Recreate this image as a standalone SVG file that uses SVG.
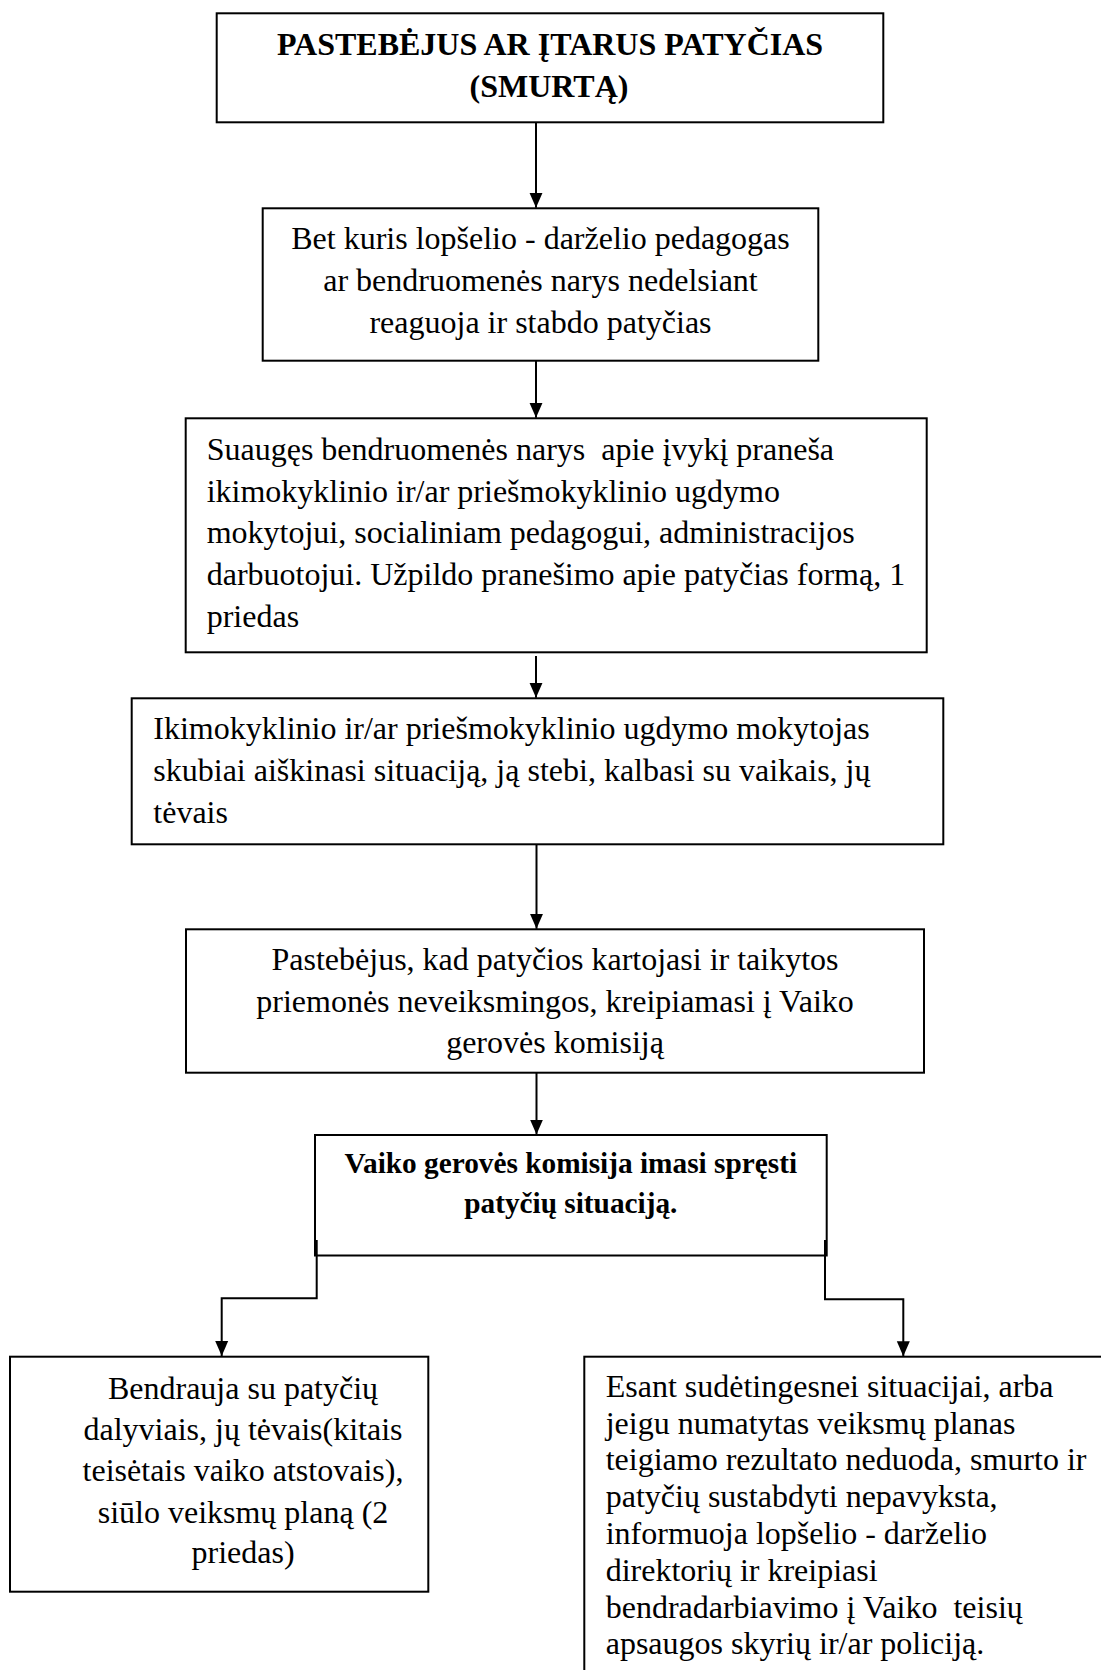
<svg xmlns="http://www.w3.org/2000/svg" width="1101" height="1670" viewBox="0 0 1101 1670">
<style>
.box{fill:#fff;stroke:#000;stroke-width:2}
.t{font-family:"Liberation Serif","Times New Roman",serif;font-size:32px;fill:#000;white-space:pre}
.b{font-weight:bold}
.c{text-anchor:middle}
.con{fill:none;stroke:#000;stroke-width:2}
</style>
<defs>
<marker id="ah" markerUnits="userSpaceOnUse" markerWidth="16" markerHeight="14" viewBox="0 0 16 14" refX="15" refY="7" orient="auto">
<path d="M0,0.5 L15,7 L0,13.5 z" fill="#000"/>
</marker>
</defs>
<rect width="1101" height="1670" fill="#fff"/>

<g id="n1">
<rect class="box" x="216.7" y="13.3" width="666.6" height="109"/>
<text class="t b c" x="550" y="55">PASTEBĖJUS AR ĮTARUS PATYČIAS</text>
<text class="t b c" x="549" y="96.7">(SMURTĄ)</text>
</g>

<g id="n2">
<rect class="box" x="262.7" y="208.3" width="555.6" height="152.4"/>
<text class="t c" x="540.5" y="249">Bet kuris lopšelio - darželio pedagogas</text>
<text class="t c" x="540.5" y="291">ar bendruomenės narys nedelsiant</text>
<text class="t c" x="540.5" y="333">reaguoja ir stabdo patyčias</text>
</g>

<g id="n3">
<rect class="box" x="185.7" y="418.3" width="741" height="234"/>
<text class="t" x="206.7" y="460" xml:space="preserve">Suaugęs bendruomenės narys  apie įvykį praneša</text>
<text class="t" x="206.7" y="501.7">ikimokyklinio ir/ar priešmokyklinio ugdymo</text>
<text class="t" x="206.7" y="543.4">mokytojui, socialiniam pedagogui, administracijos</text>
<text class="t" x="206.7" y="585">darbuotojui. Užpildo pranešimo apie patyčias formą, 1</text>
<text class="t" x="206.7" y="626.8">priedas</text>
</g>

<g id="n4">
<rect class="box" x="131.7" y="698.3" width="811.6" height="146"/>
<text class="t" x="153.3" y="738.5">Ikimokyklinio ir/ar priešmokyklinio ugdymo mokytojas</text>
<text class="t" x="153.3" y="780.5">skubiai aiškinasi situaciją, ją stebi, kalbasi su vaikais, jų</text>
<text class="t" x="153.3" y="822.5">tėvais</text>
</g>

<g id="n5">
<rect class="box" x="186" y="929.3" width="738" height="143.4"/>
<text class="t c" x="555" y="970">Pastebėjus, kad patyčios kartojasi ir taikytos</text>
<text class="t c" x="555" y="1011.7">priemonės neveiksmingos, kreipiamasi į Vaiko</text>
<text class="t c" x="555" y="1053.3">gerovės komisiją</text>
</g>

<g id="n6">
<rect class="box" x="315" y="1135" width="511.7" height="120.5"/>
<text class="t b c" x="570.8" y="1173.3" style="font-size:29.3px">Vaiko gerovės komisija imasi spręsti</text>
<text class="t b c" x="570.8" y="1213.3" style="font-size:29.3px">patyčių situaciją.</text>
</g>

<g id="n7">
<rect class="box" x="10" y="1356.7" width="418.3" height="235"/>
<text class="t c" x="243" y="1399">Bendrauja su patyčių</text>
<text class="t c" x="243" y="1440">dalyviais, jų tėvais(kitais</text>
<text class="t c" x="243" y="1481">teisėtais vaiko atstovais),</text>
<text class="t c" x="243" y="1523">siūlo veiksmų planą (2</text>
<text class="t c" x="243" y="1563">priedas)</text>
</g>

<g id="n8">
<rect class="box" x="584.3" y="1356.7" width="600" height="400"/>
<text class="t" x="605.7" y="1396.7">Esant sudėtingesnei situacijai, arba</text>
<text class="t" x="605.7" y="1433.5">jeigu numatytas veiksmų planas</text>
<text class="t" x="605.7" y="1470.3">teigiamo rezultato neduoda, smurto ir</text>
<text class="t" x="605.7" y="1507.1">patyčių sustabdyti nepavyksta,</text>
<text class="t" x="605.7" y="1543.9">informuoja lopšelio - darželio</text>
<text class="t" x="605.7" y="1580.7">direktorių ir kreipiasi</text>
<text class="t" x="605.7" y="1617.5" xml:space="preserve">bendradarbiavimo į Vaiko  teisių</text>
<text class="t" x="605.7" y="1654.3">apsaugos skyrių ir/ar policiją.</text>
</g>

<g id="connectors">
<path class="con" d="M536,122.3 V207.8" marker-end="url(#ah)"/>
<path class="con" d="M536,360.7 V417.8" marker-end="url(#ah)"/>
<path class="con" d="M536,656 V697.8" marker-end="url(#ah)"/>
<path class="con" d="M536.5,844.3 V928.8" marker-end="url(#ah)"/>
<path class="con" d="M536.5,1072.7 V1134.5" marker-end="url(#ah)"/>
<path class="con" d="M316.7,1240 V1298.3 H221.7 V1356" marker-end="url(#ah)"/>
<path class="con" d="M825,1240 V1299.3 H903.3 V1356.2" marker-end="url(#ah)"/>
</g>
</svg>
